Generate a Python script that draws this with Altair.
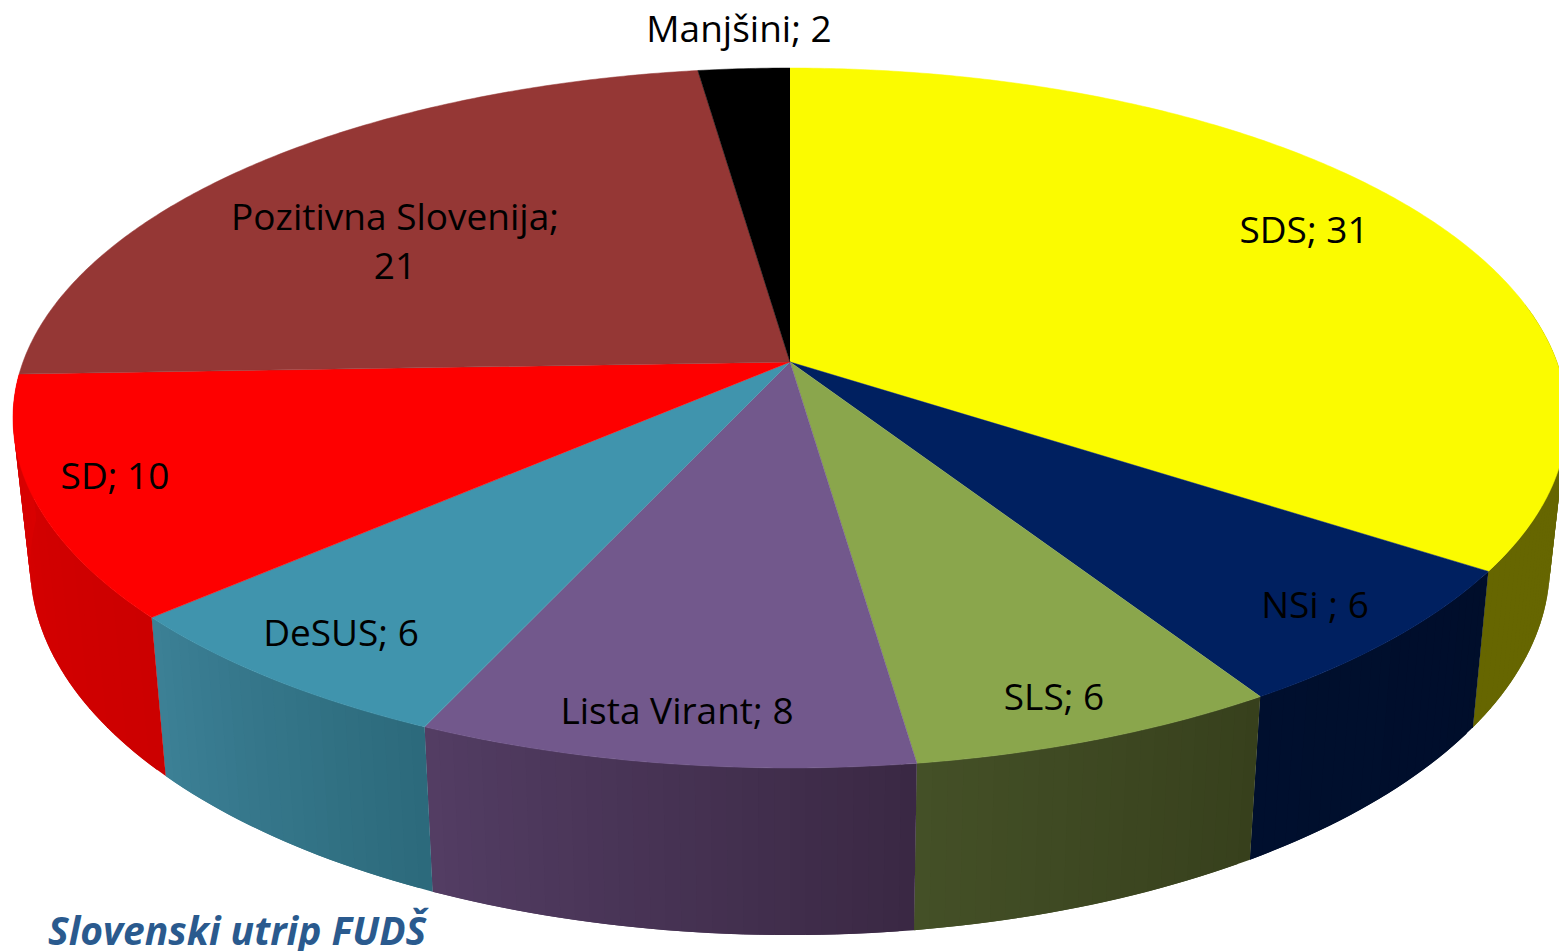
import math
import altair as alt
import pandas as pd

# ---- data ----
parties = ["SDS", "NSi ", "SLS", "Lista Virant", "DeSUS", "SD", "Pozitivna Slovenija", "Manjšini"]
seats = [31, 6, 6, 8, 6, 10, 21, 2]
label_text = ["SDS; 31", "NSi ; 6", "SLS; 6", "Lista Virant; 8", "DeSUS; 6", "SD; 10",
              "Pozitivna Slovenija;\n21", "Manjšini; 2"]
source_note = "Slovenski utrip FUDŠ"

# ---- styles ----
top_colors = ["#fbfb00", "#002060", "#8aa64c", "#72588c", "#4094ad", "#fe0000", "#953735", "#000000"]
wall_left = ["#666600", "#000f2e", "#445027", "#533d63", "#3c8096", "#d90000", "#cc0000", "#000000"]
wall_right = ["#666600", "#000e2b", "#37401c", "#3a2844", "#2c6a7b", "#cc0000", "#cc0000", "#000000"]

# ---- layout (perspective view of the disc; apex is the data origin) ----
W, H = 1551, 943
APEX_X, APEX_Y = 790, 362
A, B, K = 767, 341, 0.16          # perspective of the top face
WX, WY, WD = 0.978, 1.057, 144    # mapping top face -> lower rim
WALL_FROM, WALL_TO = 80, 268      # part of the side wall that can be seen
label_px = [(1304, 232), (1315, 607), (1054, 699), (677, 713),
            (341, 635), (115, 478), (395, 219), (739, 31)]
note_px = (48, 945)


def rim(deg):
    t = math.radians(deg)
    u, v = math.sin(t), math.cos(t)
    w = 1 + K * v
    return A * u / w, -B * v / w      # y grows downward here


def lower(x, y):
    return WX * x, WY * y + WD


def mix(c1, c2, f):
    a = [int(c1[i:i + 2], 16) for i in (1, 3, 5)]
    b = [int(c2[i:i + 2], 16) for i in (1, 3, 5)]
    return "#%02x%02x%02x" % tuple(round(p + (q - p) * f) for p, q in zip(a, b))


total = sum(seats)
edges = [0]
for s in seats:
    edges.append(edges[-1] + s / total * 360)

top_rows, wall_rows = [], []
strip_no = 0
for k, name in enumerate(parties):
    a0, a1 = edges[k], edges[k + 1]
    top_rows.append(dict(party=name, i=0, x=0, y=0))
    n = max(2, int((a1 - a0) * 2))
    for j in range(n + 1):
        x, y = rim(a0 + (a1 - a0) * j / n)
        top_rows.append(dict(party=name, i=j + 1, x=x, y=-y))
    w0, w1 = max(a0, WALL_FROM), min(a1, WALL_TO)
    if w1 > w0:
        steps = max(1, int(w1 - w0))
        for j in range(steps):
            d0 = w0 + (w1 - w0) * j / steps
            # every strip runs on under the next one, so that no seam shows
            d1 = w0 + (w1 - w0) * min(j + 2, steps) / steps
            col = mix(wall_left[k], wall_right[k], 1 - (j + .5) / steps)
            p, q = rim(d0), rim(d1)
            lp, lq = lower(*p), lower(*q)
            for i, pt in enumerate([p, q, lq, lp]):
                wall_rows.append(dict(strip=strip_no, i=i, x=pt[0], y=-pt[1], col=col))
            strip_no += 1

label_df = pd.DataFrame(dict(
    text=label_text,
    x=[p[0] - APEX_X for p in label_px],
    y=[APEX_Y - p[1] for p in label_px],
))
note_df = pd.DataFrame(dict(text=[source_note], x=[note_px[0] - APEX_X], y=[APEX_Y - note_px[1]]))

xs = alt.Scale(domain=[8 - APEX_X, 8 - APEX_X + W], nice=False, zero=False)
ys = alt.Scale(domain=[APEX_Y - 8 - H, APEX_Y - 8], nice=False, zero=False)
X = alt.X("x:Q", scale=xs, axis=None)
Y = alt.Y("y:Q", scale=ys, axis=None)

walls = alt.Chart(pd.DataFrame(wall_rows)).mark_line(strokeWidth=0).encode(
    x=X, y=Y, order="i:Q", detail="strip:O",
    fill=alt.Fill("col:N", scale=None),
)
tops = alt.Chart(pd.DataFrame(top_rows)).mark_line(strokeWidth=0.5).encode(
    x=X, y=Y, order="i:Q",
    fill=alt.Fill("party:N", scale=alt.Scale(domain=parties, range=top_colors), legend=None),
    stroke=alt.Stroke("party:N", scale=alt.Scale(domain=parties, range=top_colors), legend=None),
)
labels = alt.Chart(label_df).mark_text(
    font="Open Sans", fontSize=37, color="#000000", align="center", baseline="middle",
    lineBreak="\n", lineHeight=49,
).encode(x=X, y=Y, text="text:N")
note = alt.Chart(note_df).mark_text(
    font="Open Sans", fontSize=39, fontStyle="italic", fontWeight="bold",
    color="#2a5a8e", align="left", baseline="alphabetic",
).encode(x=X, y=Y, text="text:N")

chart = alt.layer(walls, tops, labels, note).properties(
    width=W, height=H, padding=0, background="#ffffff",
    autosize=alt.AutoSizeParams(type="none"),
).configure_view(stroke=None)

chart.save("out.html", embed_options={"renderer": "svg", "actions": False})
